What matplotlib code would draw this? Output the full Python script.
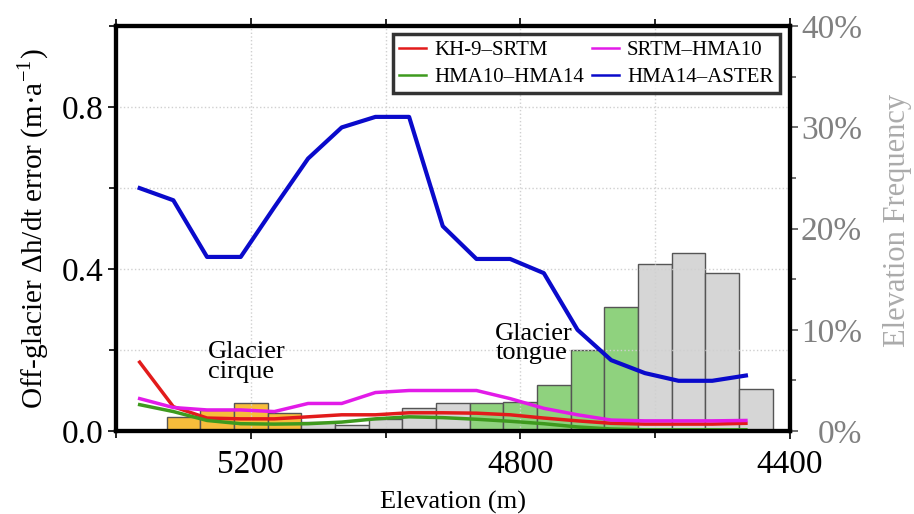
import matplotlib
matplotlib.use('Agg')
import matplotlib.pyplot as plt
from matplotlib.ticker import MultipleLocator, FuncFormatter

plt.rcParams['font.family'] = ['Liberation Serif', 'DejaVu Serif']
plt.rcParams['mathtext.fontset'] = 'stix'

# error curves (m/a), sampled every 50 m
line_elev = [5365, 5315, 5265, 5215, 5165, 5115, 5065, 5015, 4965, 4915,
             4865, 4815, 4765, 4715, 4665, 4615, 4565, 4515, 4465]
kh9_srtm = [0.17, 0.06, 0.032, 0.03, 0.03, 0.035, 0.04, 0.04, 0.045, 0.045,
            0.044, 0.04, 0.032, 0.025, 0.019, 0.017, 0.017, 0.017, 0.019]
srtm_hma10 = [0.08, 0.058, 0.052, 0.052, 0.048, 0.068, 0.068, 0.095, 0.1, 0.1,
              0.1, 0.08, 0.056, 0.04, 0.027, 0.025, 0.025, 0.025, 0.026]
hma10_hma14 = [0.065, 0.048, 0.026, 0.018, 0.017, 0.018, 0.022, 0.03, 0.035, 0.033,
               0.029, 0.024, 0.018, 0.01, 0.005, 0.003, 0.003, 0.003, 0.003]
hma14_aster = [0.60, 0.57, 0.43, 0.43, 0.553, 0.673, 0.75, 0.776, 0.776, 0.506,
               0.425, 0.425, 0.39, 0.25, 0.175, 0.143, 0.124, 0.124, 0.137]

# elevation histogram, 50 m bins (percent)
bin_centers = [5350, 5300, 5250, 5200, 5150, 5100, 5050, 5000, 4950, 4900,
               4850, 4800, 4750, 4700, 4650, 4600, 4550, 4500, 4450]
freq = [0.1, 1.4, 2.1, 2.8, 1.75, 0.9, 0.6, 1.2, 2.25, 2.75,
        2.75, 2.9, 4.5, 8.0, 12.3, 16.5, 17.6, 15.6, 4.1]
zone = ['other', 'cirque', 'cirque', 'cirque', 'cirque', 'other', 'other', 'other', 'other', 'other',
        'tongue', 'tongue', 'tongue', 'tongue', 'tongue', 'other', 'other', 'other', 'other']
zone_colors = {'cirque': '#F7BD3B', 'tongue': '#8FD27E', 'other': '#D6D6D6'}

fig = plt.figure(figsize=(9.14, 5.14), dpi=100)
ax = fig.add_axes([0.127, 0.1615, 0.737, 0.7875])
ax2 = ax.twinx()

ax2.bar(bin_centers, freq, width=50, color=[zone_colors[z] for z in zone],
        edgecolor='#555555', linewidth=1.0)
ax2.set_ylim(0, 40)
ax2.yaxis.set_major_locator(MultipleLocator(10))
ax2.yaxis.set_minor_locator(MultipleLocator(5))
ax2.yaxis.set_major_formatter(FuncFormatter(lambda v, p: '{:d}%'.format(int(v))))
# right-aligned percentage labels
ax2.tick_params(axis='y', which='major', labelsize=24, labelcolor='#808080',
                colors='#555555', length=6, width=1.2, direction='out', pad=46)
ax2.tick_params(axis='y', which='minor', colors='#555555', length=4, width=1.2, direction='out')
for lbl in ax2.get_yticklabels():
    lbl.set_horizontalalignment('right')
ax2.set_ylabel('Elevation Frequency', fontsize=22, color='#ABABAB')
ax2.yaxis.set_label_coords(1.138, 0.52)

ax.set_zorder(ax2.get_zorder() + 1)
ax.patch.set_visible(False)

ax.grid(True, which='both', linestyle=':', color='#D0D0D0', linewidth=1.0)
l1, = ax.plot(line_elev, kh9_srtm, color='#E21B1B', lw=2.5, label='KH-9–SRTM')
l2, = ax.plot(line_elev, srtm_hma10, color='#E21BE8', lw=2.5, label='SRTM–HMA10')
l3, = ax.plot(line_elev, hma10_hma14, color='#3E9A1E', lw=2.5, label='HMA10–HMA14')
l4, = ax.plot(line_elev, hma14_aster, color='#0A0ACB', lw=3, label='HMA14–ASTER')

ax.set_xlim(5400, 4400)
ax.set_ylim(0, 1.0)
ax.xaxis.set_major_locator(MultipleLocator(400))
ax.xaxis.set_minor_locator(MultipleLocator(200))
ax.yaxis.set_major_locator(MultipleLocator(0.4))
ax.yaxis.set_minor_locator(MultipleLocator(0.2))
ax.yaxis.set_major_formatter(FuncFormatter(lambda v, p: '{:.1f}'.format(v)))
ax.tick_params(axis='both', which='major', labelsize=24, length=6, width=1.2, direction='out', pad=3)
ax.tick_params(axis='x', which='major', pad=7)
ax.tick_params(axis='both', which='minor', length=5, width=1.2, direction='out')
ax.tick_params(axis='x', top=True, which='both')

for a in (ax, ax2):
    for s in a.spines.values():
        s.set_linewidth(3)
        s.set_color('black')

ax.set_xlabel('Elevation (m)', fontsize=19, labelpad=8)
ax.set_ylabel('Off-glacier Δh/dt error (m·a$^{\\mathregular{-1}}$)', fontsize=21, labelpad=8)

ax.text(5263, 0.222, 'Glacier\ncirque', fontsize=19, va='top', ha='left', linespacing=0.85)
ax.text(4837, 0.267, 'Glacier\ntongue', fontsize=19, va='top', ha='left', linespacing=0.85)

leg = ax.legend(handles=[l1, l3, l2, l4], ncol=2, loc='upper right',
                bbox_to_anchor=(0.988, 0.985), fontsize=15, frameon=True, fancybox=False,
                handlelength=1.3, handletextpad=0.38, columnspacing=0.38,
                borderpad=0.3, labelspacing=0.35, borderaxespad=0.1)
leg.get_frame().set_edgecolor('black')
leg.get_frame().set_linewidth(2.5)
for h in leg.get_lines():
    h.set_linewidth(1.8)

fig.savefig('out.png', dpi=100)
